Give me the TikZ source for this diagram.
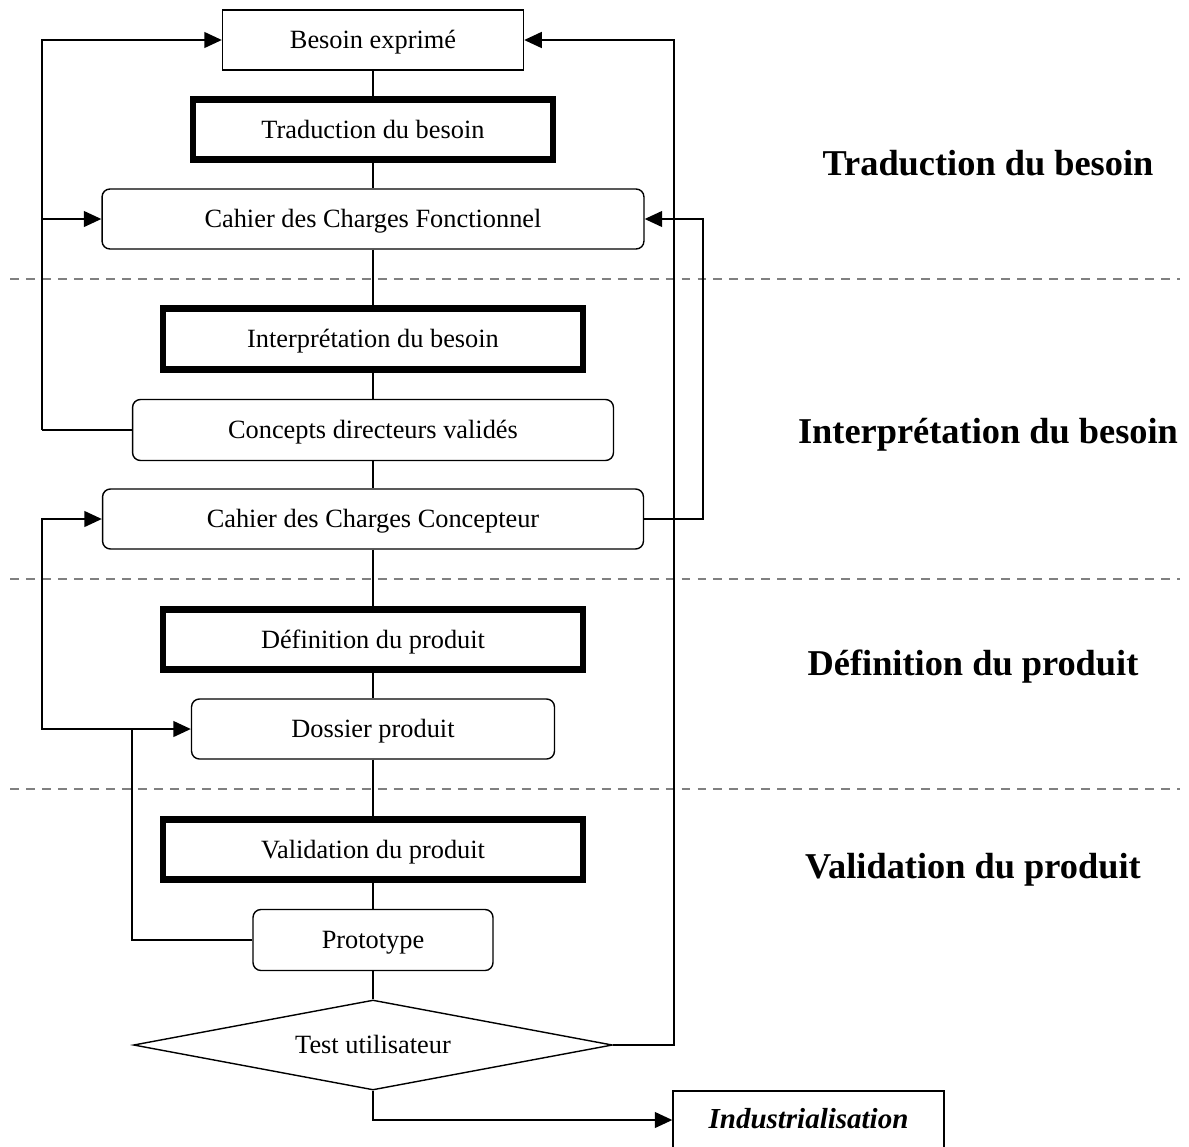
\documentclass[tikz,border=0pt]{standalone}
\usepackage{fontspec}
\setmainfont{Liberation Serif}
\usetikzlibrary{arrows.meta,shapes.geometric}
\tikzset{
  boxtext/.style={font=\fontsize{15}{18}\selectfont, inner sep=0pt, align=center, text height=12pt, text depth=2pt},
  plainbox/.style={boxtext, draw, line width=0.8pt, rectangle},
  thickbox/.style={boxtext, draw, line width=3.9pt, rectangle},
  roundbox/.style={boxtext, draw, line width=0.8pt, rectangle, rounded corners=4.5pt},
  testbox/.style={boxtext, draw, line width=0.8pt, diamond, aspect=5.3},
  indusbox/.style={draw, line width=0.8pt, rectangle, inner sep=0pt, text height=12pt, text depth=2pt, font=\bfseries\itshape\fontsize{16.5}{19}\selectfont},
  phaselabel/.style={anchor=base, inner sep=0pt, font=\bfseries\fontsize{20.7}{24}\selectfont},
  separator/.style={draw=gray, line width=1.1pt, dash pattern=on 5.1pt off 4pt},
  trunk/.style={draw, line width=0.8pt},
  conn/.style={draw, line width=1.1pt},
  arr/.style={conn, -{Triangle[length=10pt,width=9pt]}},
}
\begin{document}
\begin{tikzpicture}[x=0.02cm, y=-0.02cm]
\useasboundingbox (0,0) rectangle (1189,1146);

% separators
\coordinate (s1a) at (10,279);  \coordinate (s1b) at (1180,279);
\coordinate (s2a) at (10,579);  \coordinate (s2b) at (1180,579);
\coordinate (s3a) at (10,789);  \coordinate (s3b) at (1180,789);
\draw[separator] (s1a) -- (s1b);
\draw[separator] (s2a) -- (s2b);
\draw[separator] (s3a) -- (s3b);

% nodes
\node[plainbox, minimum width=6.02cm, minimum height=1.2cm] (besoin) at (373,40) {Besoin exprimé};
\node[thickbox, minimum width=7.2cm, minimum height=1.2cm] (trad) at (373,129.5) {Traduction du besoin};
\node[roundbox, minimum width=10.84cm, minimum height=1.2cm] (cdcf) at (373,219) {Cahier des Charges Fonctionnel};
\node[thickbox, minimum width=8.4cm, minimum height=1.22cm] (interp) at (373,339) {Interprétation du besoin};
\node[roundbox, minimum width=9.62cm, minimum height=1.22cm] (concepts) at (373,430) {Concepts directeurs validés};
\node[roundbox, minimum width=10.82cm, minimum height=1.2cm] (cdcc) at (373,519) {Cahier des Charges Concepteur};
\node[thickbox, minimum width=8.4cm, minimum height=1.2cm] (def) at (373,639.5) {Définition du produit};
\node[roundbox, minimum width=7.26cm, minimum height=1.2cm] (dossier) at (373,729) {Dossier produit};
\node[thickbox, minimum width=8.4cm, minimum height=1.2cm] (valid) at (373,849.5) {Validation du produit};
\node[roundbox, minimum width=4.8cm, minimum height=1.22cm] (proto) at (373,940) {Prototype};
\node[testbox, minimum width=9.58cm, minimum height=1.8cm] (test) at (373,1045) {Test utilisateur};
\node[indusbox, minimum width=5.42cm, minimum height=1.16cm] (indus) at (808.5,1120) {Industrialisation};

% phase labels
\node[phaselabel] (l1) at (988,175) {Traduction du besoin};
\node[phaselabel] (l2) at (988,443) {Interprétation du besoin};
\node[phaselabel] (l3) at (973,675) {Définition du produit};
\node[phaselabel] (l4) at (973,878) {Validation du produit};

% main trunk
\draw[trunk] (besoin) -- (trad);
\draw[trunk] (trad) -- (cdcf);
\draw[trunk] (cdcf) -- (interp);
\draw[trunk] (interp) -- (concepts);
\draw[trunk] (concepts) -- (cdcc);
\draw[trunk] (cdcc) -- (def);
\draw[trunk] (def) -- (dossier);
\draw[trunk] (dossier) -- (valid);
\draw[trunk] (valid) -- (proto);
\draw[trunk] (proto) -- (test);

% feedback loops
\coordinate (la) at (42,430);
\draw[conn] (concepts.west) -- (la);
\draw[arr] (la) |- (besoin.west);
\draw[arr] (la |- cdcf.west) -- (cdcf.west);

\coordinate (ra) at (674,1045);
\draw[arr] (test.east) -- (ra) |- (besoin.east);

\coordinate (rb) at (703,519);
\draw[arr] (cdcc.east) -- (rb) |- (cdcf.east);

\coordinate (pa) at (132,940);
\draw[arr] (proto.west) -- (pa) |- (dossier.west);
\coordinate (lb) at (42,729);
\draw[arr] (pa |- dossier.west) -- (lb) |- (cdcc.west);

\draw[arr] (test.south) |- (indus.west);
\end{tikzpicture}
\end{document}
